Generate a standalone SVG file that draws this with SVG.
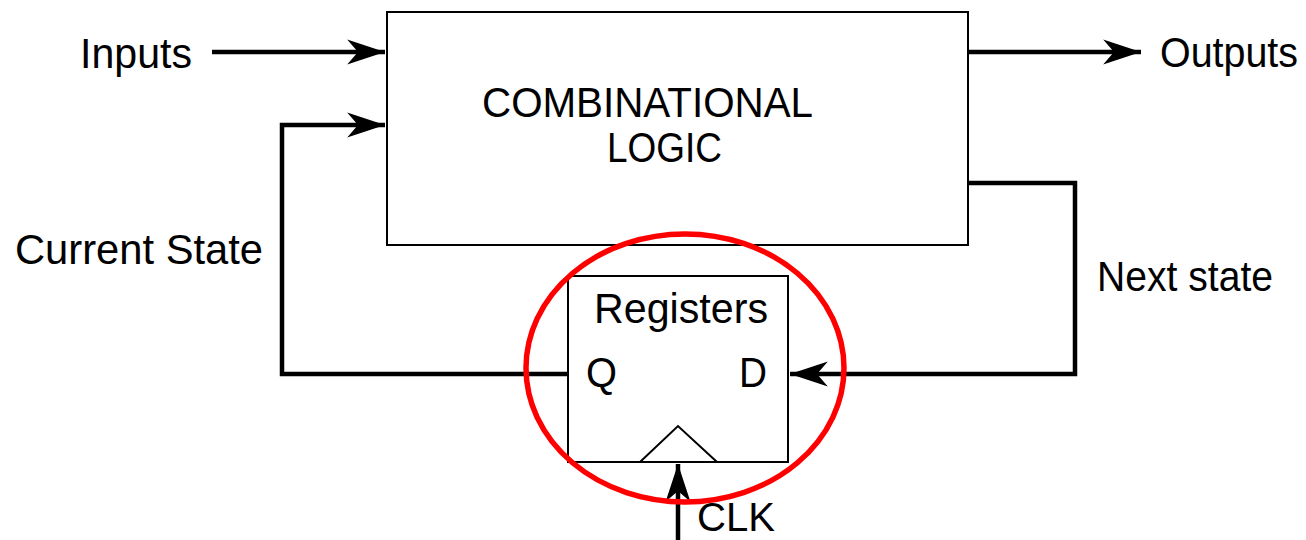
<svg xmlns="http://www.w3.org/2000/svg" width="1306" height="540" viewBox="0 0 1306 540">
<style>
text{font-family:"Liberation Sans",Arial,sans-serif;font-size:42px;fill:#000}
.box{fill:#fff;stroke:#000;stroke-width:2}
.wire{fill:none;stroke:#000;stroke-width:4.5;stroke-linejoin:miter}
</style>
<defs>
<marker id="arr" markerUnits="userSpaceOnUse" markerWidth="40" markerHeight="30" viewBox="-35 -13 37 26" refX="0" refY="0" orient="auto">
<path d="M0,0 L-35,-11.5 L-25,0 L-35,11.5 Z" fill="#000"/>
</marker>
</defs>
<rect width="1306" height="540" fill="#fff"/>
<g id="comb">
<rect class="box" x="387" y="12" width="581" height="233"/>
<text x="482" y="117" textLength="331" lengthAdjust="spacingAndGlyphs">COMBINATIONAL</text>
<text x="607" y="162" textLength="115" lengthAdjust="spacingAndGlyphs">LOGIC</text>
</g>
<g id="registers">
<rect class="box" x="568" y="276" width="220" height="186"/>
<path d="M640,462 L678,426 L717,462" fill="none" stroke="#000" stroke-width="2"/>
<text x="594" y="323" textLength="174" lengthAdjust="spacingAndGlyphs">Registers</text>
<text x="586" y="387" textLength="31" lengthAdjust="spacingAndGlyphs">Q</text>
<text x="739" y="387" textLength="28" lengthAdjust="spacingAndGlyphs">D</text>
</g>
<g id="labels">
<text x="80" y="68" textLength="112" lengthAdjust="spacingAndGlyphs">Inputs</text>
<text x="1160" y="67" textLength="138" lengthAdjust="spacingAndGlyphs">Outputs</text>
<text x="15" y="264" textLength="248" lengthAdjust="spacingAndGlyphs">Current State</text>
<text x="1097" y="291" textLength="176" lengthAdjust="spacingAndGlyphs">Next state</text>
<text x="697" y="531" style="font-size:40px" textLength="78" lengthAdjust="spacingAndGlyphs">CLK</text>
</g>
<g id="connectors">
<path class="wire" d="M212,52 L385,52" marker-end="url(#arr)"/>
<path class="wire" d="M568,374 L282,374 L282,125 L385,125" marker-end="url(#arr)"/>
<path class="wire" d="M968,52 L1141,52" marker-end="url(#arr)"/>
<path class="wire" d="M968,183 L1075,183 L1075,374 L790,374" marker-end="url(#arr)"/>
<path class="wire" d="M678,540 L678,464" marker-end="url(#arr)"/>
</g>
<g id="highlight">
<ellipse cx="685" cy="368" rx="159" ry="134" fill="none" stroke="#f00" stroke-width="5.5"/>
</g>
</svg>
